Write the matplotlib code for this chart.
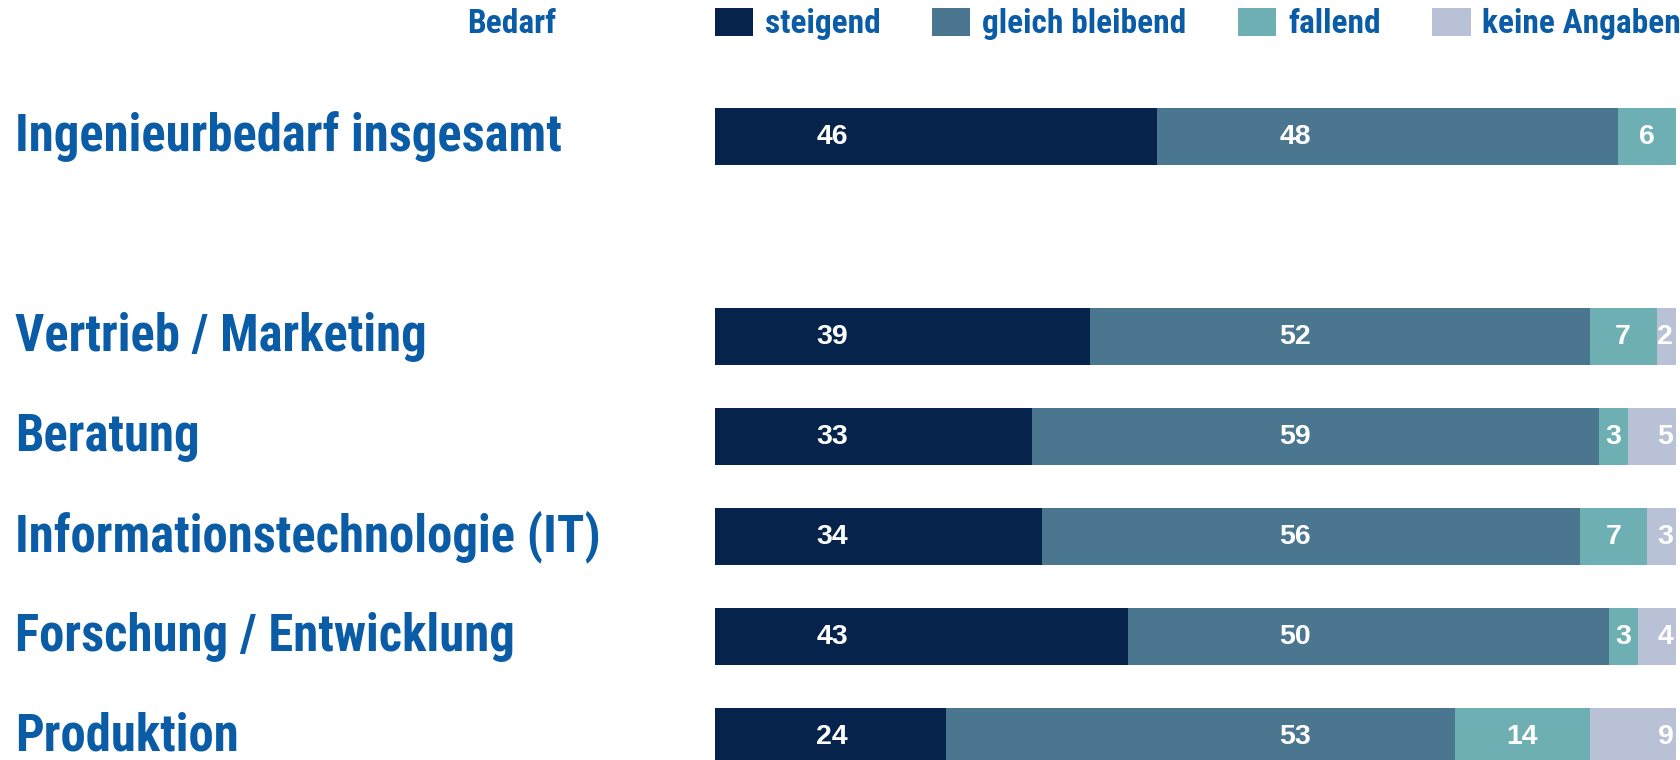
import matplotlib
matplotlib.use("Agg")
import matplotlib.pyplot as plt
import matplotlib.transforms as mtransforms
import numpy as np

# Bedarf an Ingenieuren nach Bereichen, Anteile in %
categories = ["Ingenieurbedarf insgesamt", "Vertrieb / Marketing", "Beratung",
              "Informationstechnologie (IT)", "Forschung / Entwicklung", "Produktion"]
rows = [0, 2, 3, 4, 5, 6]
steigend = [46, 39, 33, 34, 43, 24]
gleich_bleibend = [48, 52, 59, 56, 50, 53]
fallend = [6, 7, 3, 7, 3, 14]
keine_angaben = [0, 2, 5, 3, 4, 9]

series_names = ["steigend", "gleich bleibend", "fallend", "keine Angaben"]
colors = ["#05234b", "#4a768f", "#6eafb4", "#b8c1d6"]
text_blue = "#0b5ca6"
cond = ["Roboto Condensed", "Fira Sans Condensed", "DejaVu Sans"]
plain = ["Liberation Sans", "DejaVu Sans"]

W, H = 1681, 760
fig = plt.figure(figsize=(W / 100, H / 100), dpi=100)
ax = fig.add_axes([715 / W, 0, 961 / W, 1])
ax.set_xlim(0, 100)
ax.set_ylim(6.235, -1.365)
ax.axis("off")

series = [steigend, gleich_bleibend, fallend, keine_angaben]
left = np.zeros(len(rows))
handles = []
for name, vals, col in zip(series_names, series, colors):
    vals = np.array(vals, dtype=float)
    bars = ax.barh(rows, vals, left=left, height=0.57, color=col, label=name)
    handles.append(bars)
    for y, v, l in zip(rows, vals, left):
        if v <= 0:
            continue
        if name == "steigend":
            x = 12.2
        elif name == "gleich bleibend":
            x = 60.4
        elif name == "fallend":
            x = l + v / 2
        else:
            x = 98.9
        ax.text(x, y, f"{int(v)}", color="white", fontsize=20.5, fontweight="bold",
                family=plain, ha="center", va="center")
    left += vals

# Kategorienbeschriftung links
trans = mtransforms.blended_transform_factory(fig.transFigure, ax.transData)
for y, cat in zip(rows, categories):
    ax.text(15 / W, y, cat, transform=trans, color=text_blue, fontsize=36.5,
            fontweight="bold", family=cond, ha="left", va="center", clip_on=False)

fig.text(556 / W, 1 - 24 / H, "Bedarf", color=text_blue, fontsize=24,
         fontweight="bold", family=cond, ha="right", va="center")

leg = ax.legend(handles=handles, ncol=4, loc="center right",
                bbox_to_anchor=(1.0, 1 - 24 / H), bbox_transform=fig.transFigure,
                frameon=False, borderaxespad=0, borderpad=0,
                handlelength=1.15, handleheight=0.95, handletextpad=0.35,
                columnspacing=1.55,
                prop={"family": cond, "weight": "bold", "size": 24})
for t in leg.get_texts():
    t.set_color(text_blue)

fig.savefig("out.png", dpi=100)
